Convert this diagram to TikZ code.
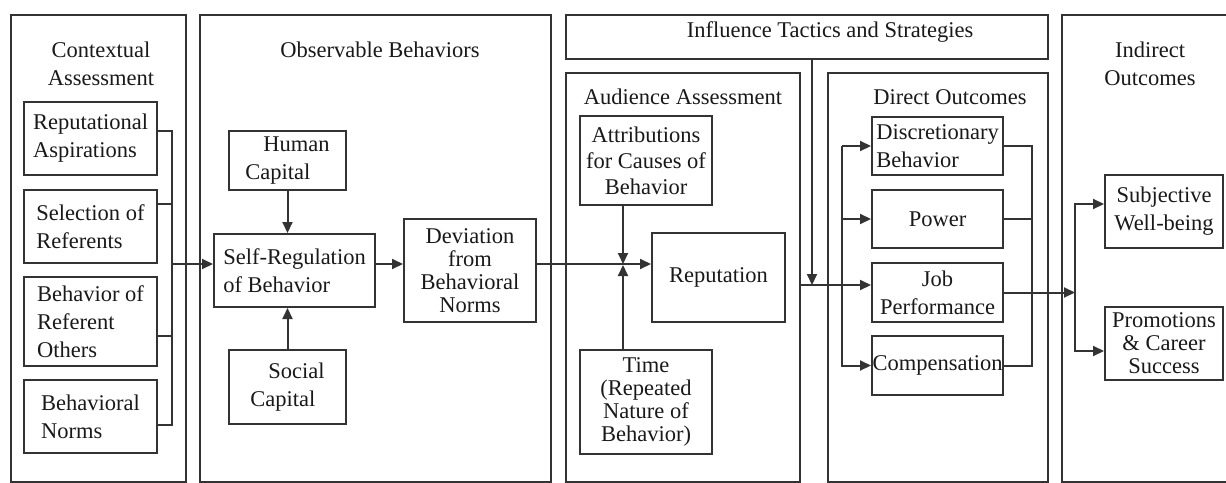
\documentclass[tikz,border=0pt]{standalone}
\usepackage{fontspec}
\setmainfont{Liberation Serif}
\usetikzlibrary{positioning, arrows.meta, calc}

\begin{document}
\begin{tikzpicture}[
    x=1pt, y=-1pt,
    >={Triangle[length=11pt, width=10pt]},
    font=\fontsize{22.5}{28}\selectfont,
    panel/.style={rectangle, draw=black!80, line width=2pt, anchor=north west, inner sep=0pt},
    block/.style={rectangle, draw=black!80, line width=2pt, align=center, inner sep=0.5pt, text=black!90},
    heading/.style={align=center, text=black!90},
    tight/.style={font=\fontsize{22.5}{23}\selectfont},
    conn/.style={draw=black!80, line width=2pt},
    arrow/.style={->, draw=black!80, line width=2pt}
]
    \useasboundingbox (0,0) rectangle (1226,482);

    % Panels
    \node[panel, minimum width=175pt, minimum height=467pt] (ctx) at (10,14) {};
    \node[panel, minimum width=351pt, minimum height=467pt] (obs) at (199,14) {};
    \node[panel, minimum width=482pt, minimum height=44pt] (infl) at (565,14) {};
    \node[panel, minimum width=234pt, minimum height=409pt] (aud) at (565,72) {};
    \node[panel, minimum width=220pt, minimum height=409pt] (dir) at (827,72) {};
    \node[panel, minimum width=200pt, minimum height=467pt] (ind) at (1061,14) {};

    \node[heading] (ctxtitle) at (101,64) {Contextual\\Assessment};
    \node[heading] (obstitle) at (380,50) {Observable Behaviors};
    \node[heading] (infltitle) at (830,32) {Influence Tactics and Strategies};
    \node[heading] (audtitle) at (683,97) {Audience Assessment};
    \node[heading] (dirtitle) at (950,97) {Direct Outcomes};
    \node[heading] (indtitle) at (1150,64) {Indirect\\Outcomes};

    % Nodes
    \node[block, align=left, minimum width=133pt, minimum height=73pt] (repasp) at (90.5,138.5) {Reputational\\Aspirations};
    \node[block, align=left, minimum width=133pt, minimum height=73pt] (selref) at (90.5,226.5) {Selection of\\Referents};
    \node[block, align=left, minimum width=133pt, minimum height=89pt] (behref) at (90.5,321.5) {Behavior of\\Referent\\Others};
    \node[block, align=left, minimum width=133pt, minimum height=73pt] (behnorm) at (90.5,416.5) {Behavioral\\Norms};

    \node[block, align=left, minimum width=117pt, minimum height=59pt] (human) at (287.5,160.5) {\hspace*{18pt}Human\\Capital};
    \node[block, align=left, minimum width=161pt, minimum height=73pt] (selfreg) at (294.5,270.5) {Self-Regulation\\of Behavior};
    \node[block, align=left, minimum width=117pt, minimum height=74pt] (social) at (287.5,387) {\hspace*{18pt}Social\\Capital};
    \node[block, tight, minimum width=132pt, minimum height=103pt] (deviation) at (470,270.5) {Deviation\\from\\Behavioral\\Norms};

    \node[block, font=\fontsize{22.5}{26}\selectfont, minimum width=132pt, minimum height=89pt] (attrib) at (646,160.5) {Attributions\\for Causes of\\Behavior};
    \node[block, minimum width=133pt, minimum height=89pt] (reput) at (718.5,277.5) {Reputation};
    \node[block, tight, minimum width=132pt, minimum height=104pt] (time) at (646,402) {Time\\(Repeated\\Nature of\\Behavior)};

    \node[block, align=left, minimum width=131pt, minimum height=58pt] (discr) at (937.5,146) {Discretionary\\Behavior};
    \node[block, minimum width=131pt, minimum height=58pt] (power) at (937.5,219) {Power};
    \node[block, minimum width=131pt, minimum height=59pt] (jobperf) at (937.5,292.5) {Job\\Performance};
    \node[block, minimum width=131pt, minimum height=59pt] (comp) at (937.5,365.5) {Compensation};

    \node[block, minimum width=118pt, minimum height=73pt] (subj) at (1164,211.5) {Subjective\\Well-being};
    \node[block, tight, minimum width=118pt, minimum height=73pt] (promo) at (1164,343.5) {Promotions\\\& Career\\Success};

    % Routing/edges
    \coordinate (ctxbus) at (172,264);
    \draw[conn] ([yshift=7.5pt]repasp.east) -| (ctxbus) |- ([yshift=-8.5pt]behnorm.east);
    \draw[conn] ([yshift=22.5pt]selref.east) -- ++(15,0);
    \draw[conn] ([yshift=-14.5pt]behref.east) -- ++(15,0);
    \draw[arrow] (ctxbus) -- ([yshift=6.5pt]selfreg.west);

    \draw[arrow] (human.south) -- (human.south |- selfreg.north);
    \draw[arrow] (social.north) -- (social.north |- selfreg.south);
    \draw[arrow] ([yshift=6.5pt]selfreg.east) -- ([yshift=6.5pt]deviation.west);

    % Deviation -> Reputation with the two moderators
    \coordinate (junction) at (623,264);
    \draw[arrow] ([yshift=6.5pt]deviation.east) -- ([yshift=13.5pt]reput.west);
    \draw[arrow] (attrib.south -| junction) -- (junction);
    \draw[arrow] (time.north -| junction) -- ([yshift=-1pt]junction);

    % Reputation -> direct outcomes
    \coordinate (tacticsin) at (812,285);
    \coordinate (dirbus) at (842,285);
    \draw[arrow] (aud.east |- tacticsin) -- ([yshift=7.5pt]jobperf.west);
    \draw[arrow] (infl.south -| tacticsin) -- (tacticsin);
    \draw[arrow] (dirbus |- discr.west) -- (discr.west);
    \draw[arrow] (dirbus |- discr.west) |- (comp.west);
    \draw[arrow] (dirbus |- power.west) -- (power.west);

    % Direct -> indirect outcomes
    \coordinate (outbus) at (1032,292.5);
    \coordinate (indbus) at (1075,292.5);
    \draw[conn] (discr.east) -| (outbus |- comp.east) -- (comp.east);
    \draw[conn] (power.east) -- (power.east -| outbus);
    \draw[arrow] (jobperf.east) -- (indbus);
    \draw[arrow] (indbus) |- ([yshift=7.5pt]subj.west);
    \draw[arrow] (indbus) |- ([yshift=-7.5pt]promo.west);

\end{tikzpicture}
\end{document}
